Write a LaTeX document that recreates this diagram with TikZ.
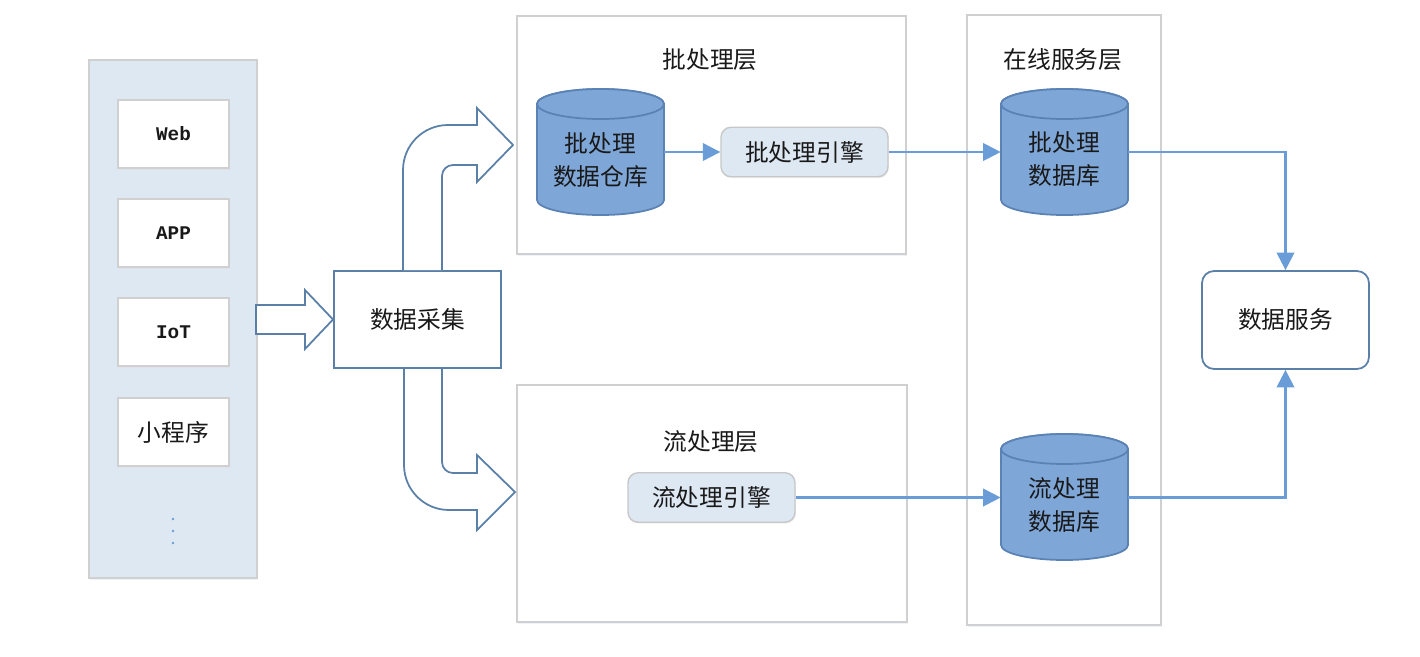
\documentclass[tikz,border=0pt]{standalone}
\usepackage{fontspec}
\setmainfont{Noto Sans CJK SC}
\newfontfamily\monofnt{Liberation Mono}
\usepackage{xcolor}
\usetikzlibrary{arrows.meta,shadows}
\definecolor{linkblue}{HTML}{6A9CD8}
\definecolor{steel}{HTML}{5B80A8}
\definecolor{dbfill}{HTML}{7EA6D7}
\definecolor{dbline}{HTML}{5A82B5}
\definecolor{paleblue}{HTML}{DEE8F3}
\definecolor{framegray}{HTML}{D0D0D0}

\begin{document}
\begin{tikzpicture}[x=0.02cm,y=-0.02cm]
		\tikzstyle{every node}=[font=\fontsize{13.5}{18.5}\selectfont, text=black!90]
		\tikzstyle{layer}=[draw=framegray, fill=white, line width=0.8pt, drop shadow={shadow xshift=0.6pt, shadow yshift=-0.9pt, fill=paleblue}]
		\tikzstyle{item}=[draw=framegray, fill=white, line width=0.8pt, minimum width=2.22cm, minimum height=1.36cm, drop shadow={shadow xshift=0.6pt, shadow yshift=-0.9pt, fill=black!12}, font=\fontsize{11}{13}\monofnt\bfseries]
		\tikzstyle{engine}=[draw=black!22, fill=paleblue, rounded corners=0.2cm, line width=0.8pt, minimum width=3.34cm, minimum height=0.99cm, drop shadow={shadow xshift=0.5pt, shadow yshift=-0.8pt, fill=black!10}]
		\tikzstyle{dbcyl}=[draw=dbline, fill=dbfill, line width=1pt]
		\tikzstyle{dbtext}=[align=center, minimum width=2.54cm, inner sep=0pt]
		\tikzstyle{fat}=[draw=steel, fill=white, line width=1pt]
		\tikzstyle{link}=[draw=linkblue, line width=1.25pt, -{Triangle[length=10pt, width=10pt]}]

		\useasboundingbox (0,0) rectangle (1420,656);

		\draw [layer, fill=paleblue] (89,60) rectangle (257,578);
		\draw [layer] (517,16) rectangle (906,254);
		\draw [layer] (517,385) rectangle (907,622);
		\draw [layer] (967,15) rectangle (1161,625);

		\node (web) [item] at (173.5,134) {Web};
		\node (app) [item] at (173.5,233) {APP};
		\node (iot) [item] at (173.5,332) {IoT};
		\node (mini) [item, font=\fontsize{13.5}{16}\selectfont] at (173.5,432) {小程序};
		\foreach \y in {519,531,543}
			\fill [linkblue] (173,\y) circle (1.4);

		\node (batchtitle) at (710,60) {批处理层};
		\node (streamtitle) at (711,442) {流处理层};
		\node (onlinetitle) at (1063,60) {在线服务层};

		\foreach \cx/\cy in {600.5/152, 1064.5/152, 1064.5/497} {
			\filldraw [dbcyl] (\cx-63.5,\cy-48) -- (\cx-63.5,\cy+48) arc [start angle=180, end angle=0, x radius=63.5, y radius=15] -- (\cx+63.5,\cy-48) arc [start angle=0, end angle=-180, x radius=63.5, y radius=15] -- cycle;
			\draw [dbcyl] (\cx,\cy-48) ellipse [x radius=63.5, y radius=15];
		}
		\node (bwh) [dbtext] at (600.5,160) {批处理\\数据仓库};
		\node (bdb) [dbtext] at (1064.5,159) {批处理\\数据库};
		\node (sdb) [dbtext] at (1064.5,505) {流处理\\数据库};

		\node (beng) [engine] at (804.5,152) {批处理引擎};
		\node (seng) [engine] at (711.5,497.5) {流处理引擎};

		\node (dcoll) [draw=steel, fill=white, line width=1pt, minimum width=3.34cm, minimum height=1.94cm] at (417.5,319.5) {数据采集};
		\node (dsvc) [draw=steel, fill=white, rounded corners=0.24cm, line width=1pt, minimum width=3.34cm, minimum height=1.96cm] at (1285.5,320) {数据服务};

		\draw [fat] (256,305) -- (305,305) -- (305,290) -- (333,319.5) -- (305,349) -- (305,334) -- (256,334) -- cycle;
		\draw [fat] (403,270) -- (403,170) arc [start angle=180, end angle=270, radius=45] -- (477,125) -- (477,108) -- (513,145) -- (477,182) -- (477,165) -- (453,165) arc [start angle=270, end angle=180, radius=11] -- (442,270);
		\draw [fat] (404,369) -- (404,465) arc [start angle=180, end angle=90, radius=45] -- (477,510) -- (477,530) -- (515,492) -- (477,455) -- (477,473) -- (453,473) arc [start angle=90, end angle=180, radius=11] -- (442,369);

		\draw [link] (bwh.east |- beng) -- (beng.west);
		\draw [link] (beng.east) -- (beng.east -| bdb.west);
		\draw [link] (seng.east) -- (seng.east -| sdb.west);
		\draw [link] (beng -| bdb.east) -| (dsvc.north);
		\draw [link] (seng -| sdb.east) -| (dsvc.south);

	\end{tikzpicture}
\end{document}
